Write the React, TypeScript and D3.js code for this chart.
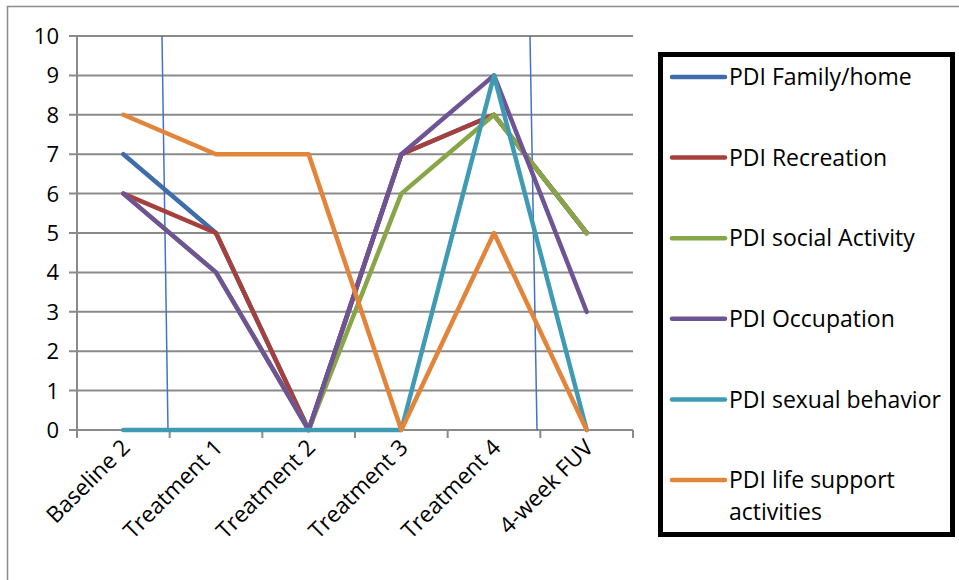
import * as d3 from 'd3'

const categories = ['Baseline 2', 'Treatment 1', 'Treatment 2', 'Treatment 3', 'Treatment 4', '4-week FUV']

const familyHome = [7, 5, 0, 7, 8, 5]
const recreation = [6, 5, 0, 7, 8, 5]
const socialActivity = [6, 4, 0, 6, 8, 5]
const occupation = [6, 4, 0, 7, 9, 3]
const sexualBehavior = [0, 0, 0, 0, 9, 0]
const lifeSupport = [8, 7, 7, 0, 5, 0]

const yTicks = [0, 1, 2, 3, 4, 5, 6, 7, 8, 9, 10]

const series = [
  { name: ['PDI Family/home'], values: familyHome, color: '#3E6DAA' },
  { name: ['PDI Recreation'], values: recreation, color: '#A6403D' },
  { name: ['PDI social Activity'], values: socialActivity, color: '#86A648' },
  { name: ['PDI Occupation'], values: occupation, color: '#6E5494' },
  { name: ['PDI sexual behavior'], values: sexualBehavior, color: '#3F9BB4' },
  { name: ['PDI life support', 'activities'], values: lifeSupport, color: '#E2843A' },
]

const W = 959
const H = 580
const FONT = '"Open Sans", "DejaVu Sans", sans-serif'
const plot = { left: 77, right: 633, top: 36, bottom: 430 }

export default function App() {
  const x = d3.scaleBand<string>().domain(categories).range([plot.left, plot.right])
  const y = d3.scaleLinear().domain([0, 10]).range([plot.bottom, plot.top])
  const cx = (c: string) => (x(c) ?? 0) + x.bandwidth() / 2

  const line = d3.line<number>()
    .x((_, i) => cx(categories[i]))
    .y(d => y(d))

  const boundaries = categories.map(c => x(c) ?? 0).concat([plot.right])
  const gridColor = '#8A8A8A'

  return (
    <div style={{ position: 'fixed', left: 0, top: 0 }}>
      <svg width={W} height={H} style={{ display: 'block', background: '#fff' }} fontFamily={FONT}>
        {/* outer chart border */}
        <rect x={7.5} y={6.5} width={W + 10} height={H + 10} fill="none" stroke="#8C8C8C" strokeWidth={1.5} />

        {/* horizontal gridlines + y ticks */}
        {yTicks.map(t => (
          <g key={t}>
            <line x1={plot.left - 8} x2={plot.right} y1={y(t)} y2={y(t)} stroke={gridColor} strokeWidth={2} />
            <text x={59} y={y(t)} dy="0.36em" textAnchor="end" fontSize={22} fill="#000">{t}</text>
          </g>
        ))}

        {/* y axis */}
        <line x1={plot.left} x2={plot.left} y1={plot.top} y2={plot.bottom + 8} stroke={gridColor} strokeWidth={2} />

        {/* x ticks */}
        {boundaries.map((b, i) => (
          <line key={i} x1={b} x2={b} y1={plot.bottom} y2={plot.bottom + 8} stroke={gridColor} strokeWidth={2} />
        ))}

        {/* x labels */}
        {categories.map(c => (
          <text
            key={c}
            transform={`translate(${cx(c) + 8}, ${plot.bottom + 19}) rotate(-45)`}
            textAnchor="end"
            fontSize={22.5}
            fill="#000"
          >
            {c}
          </text>
        ))}

        {/* annotation lines */}
        <line x1={162} y1={plot.top} x2={168} y2={plot.bottom} stroke="#4472C4" strokeWidth={1.5} />
        <line x1={530} y1={plot.top} x2={537} y2={plot.bottom} stroke="#4472C4" strokeWidth={1.5} />

        {/* series */}
        {series.map(s => (
          <path
            key={s.name[0]}
            d={line(s.values) ?? ''}
            fill="none"
            stroke={s.color}
            strokeWidth={4.5}
            strokeLinejoin="round"
            strokeLinecap="round"
          />
        ))}

        {/* legend */}
        <rect x={660.5} y={54.5} width={292} height={480} fill="#fff" stroke="#000" strokeWidth={5} />
        {series.map((s, i) => {
          const ly = 77 + i * 80.6
          return (
            <g key={s.name[0]}>
              <line x1={672} x2={725} y1={ly} y2={ly} stroke={s.color} strokeWidth={4.5} strokeLinecap="round" />
              {s.name.map((n, j) => (
                <text key={n} x={729} y={ly + j * 32} dy="0.36em" fontSize={23} fill="#000">{n}</text>
              ))}
            </g>
          )
        })}
      </svg>
    </div>
  )
}
